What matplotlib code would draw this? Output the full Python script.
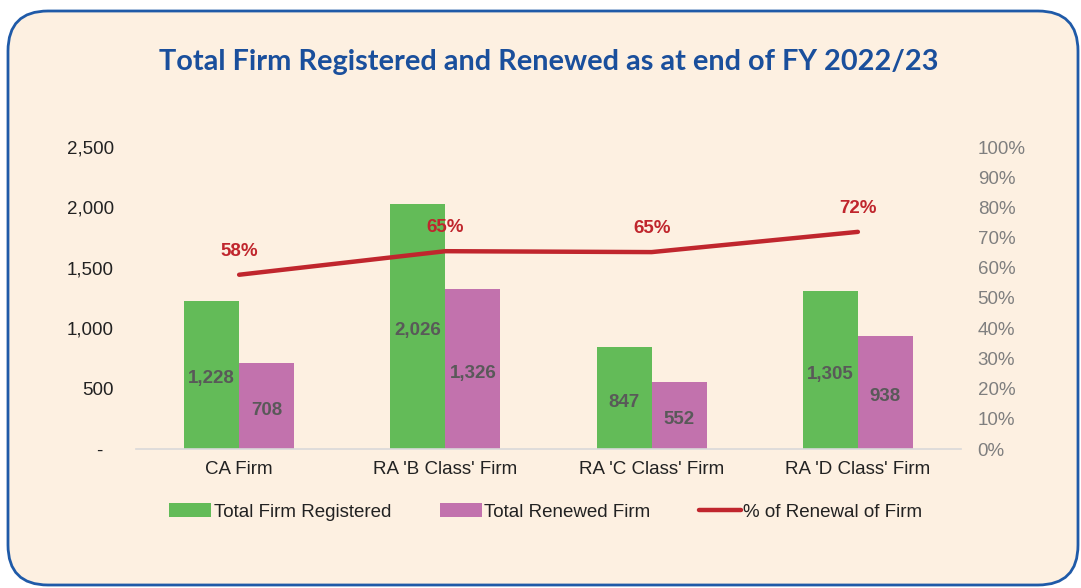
import matplotlib.pyplot as plt
import numpy as np
from matplotlib.patches import FancyBboxPatch
from matplotlib.ticker import FuncFormatter, PercentFormatter

# Chart data
categories = ["CA Firm", "RA 'B Class' Firm", "RA 'C Class' Firm", "RA 'D Class' Firm"]
registered = [1228, 2026, 847, 1305]
renewed = [708, 1326, 552, 938]
renewal_pct = [0.577, 0.655, 0.652, 0.719]
pct_labels = ["58%", "65%", "65%", "72%"]

green = '#63bb58'
pink = '#c272ad'
red = '#c0262d'
bg = '#fdf0e1'
blue = '#1a4f9c'

plt.rcParams['font.family'] = ['Liberation Sans', 'DejaVu Sans']
fs = 13.5

fig = plt.figure(figsize=(10.81, 5.88), dpi=100)
fig.patch.set_facecolor('white')

# Rounded panel behind the chart (inch coordinates)
panel = FancyBboxPatch((0.08, 0.03), 10.7, 5.74,
                       boxstyle='round,pad=0,rounding_size=0.4',
                       transform=fig.dpi_scale_trans, facecolor=bg,
                       edgecolor='#1f5aa8', linewidth=2, zorder=-1)
fig.patches.append(panel)

ax = fig.add_axes([136 / 1081, 1 - 449 / 588, (961 - 136) / 1081, (449 - 147) / 588])
ax.set_facecolor('none')

x = np.arange(len(categories))
w = 0.267
b1 = ax.bar(x - w / 2, registered, w, color=green, label='Total Firm Registered')
b2 = ax.bar(x + w / 2, renewed, w, color=pink, label='Total Renewed Firm')

for bars, vals in ((b1, registered), (b2, renewed)):
    for r, v in zip(bars, vals):
        ax.annotate(f'{v:,}', (r.get_x() + r.get_width() / 2, v / 2), xytext=(0, -3),
                    textcoords='offset points', ha='center', va='center',
                    fontsize=fs, fontweight='bold', color='#595959')

ax.set_xlim(-0.5, len(categories) - 0.5)
ax.set_ylim(0, 2500)
ax.set_yticks([0, 500, 1000, 1500, 2000, 2500])
ax.yaxis.set_major_formatter(FuncFormatter(lambda v, p: '-  ' if v == 0 else f'{int(v):,}'))
ax.set_xticks(x)
ax.set_xticklabels(categories)
ax.tick_params(axis='y', length=0, pad=16, labelsize=fs, labelcolor='#222222')
ax.tick_params(axis='x', length=0, pad=9, labelsize=fs, labelcolor='#222222')
for s in ['top', 'right', 'left']:
    ax.spines[s].set_visible(False)
ax.spines['bottom'].set_color('#d9d9d9')
ax.spines['bottom'].set_linewidth(1.2)

ax2 = ax.twinx()
ln, = ax2.plot(x, renewal_pct, color=red, linewidth=3.2, solid_capstyle='round',
               label='% of Renewal of Firm')
for xi, p, lab in zip(x, renewal_pct, pct_labels):
    ax2.annotate(lab, (xi, p), xytext=(0, 17), textcoords='offset points',
                 ha='center', va='center', fontsize=fs, fontweight='bold', color=red)
ax2.set_ylim(0, 1)
ax2.set_yticks(np.arange(0, 1.01, 0.1))
ax2.yaxis.set_major_formatter(PercentFormatter(1.0, decimals=0))
ax2.tick_params(axis='y', length=0, pad=12, labelsize=fs, labelcolor='#7f7f7f')
for s in ax2.spines.values():
    s.set_visible(False)

fig.text(549 / 1081, 1 - 62 / 588, 'Total Firm Registered and Renewed as at end of FY 2022/23',
         ha='center', va='center', fontsize=20.8, fontweight='bold', color=blue,
         family=['Lato', 'DejaVu Sans'])

fig.legend(handles=[b1, b2, ln], loc='center', bbox_to_anchor=(546 / 1081, 1 - 512 / 588),
           ncol=3, frameon=False, fontsize=fs, handlelength=2.24, handletextpad=0.12,
           columnspacing=2.6, labelcolor='#222222')

fig.savefig('out.png', dpi=100, facecolor=fig.get_facecolor())
